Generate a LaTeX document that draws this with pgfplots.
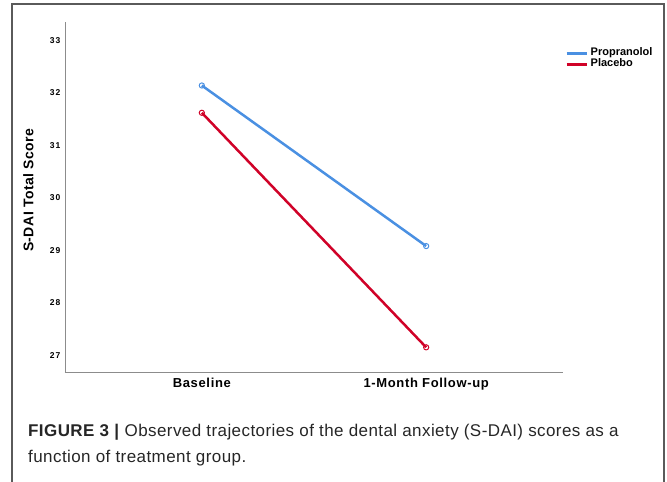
\documentclass[border=0pt]{standalone}
\usepackage{pgfplots}
\pgfplotsset{compat=1.18}
\usepackage{fontspec}
\setmainfont{Liberation Sans}
\definecolor{cblue}{RGB}{74,144,226}
\definecolor{cred}{RGB}{208,2,40}
\definecolor{frame}{RGB}{90,90,90}
\begin{document}
\begin{tikzpicture}[x=1pt,y=1pt]
\useasboundingbox (0,0) rectangle (667,482);
\draw[color=frame, line width=1.3pt] (12,0) -- (12,478) -- (664,478) -- (664,0);
\begin{axis}[
  at={(65pt,110pt)}, anchor=south west, scale only axis,
  width=498pt, height=350pt,
  xmin=-0.61, xmax=1.61, ymin=26.68, ymax=33.35,
  axis lines=left, axis line style={-, black!45, line width=0.9pt},
  xtick={0,1}, xticklabels={Baseline,1-Month Follow-up},
  ytick={27,28,29,30,31,32,33},
  major tick length=0pt,
  /pgf/number format/assume math mode=true,
  yticklabel style={font=\fontsize{8.5}{10}\selectfont\bfseries\addfontfeature{LetterSpace=12}, xshift=-1pt},
  xticklabel style={font=\fontsize{13}{15}\selectfont\bfseries\addfontfeature{LetterSpace=5}, yshift=-3pt},
  ylabel={S-DAI Total Score},
  every axis y label/.style={at={(axis description cs:-0.0733,0.519)}, rotate=90, anchor=center, font=\fontsize{14}{15}\selectfont\bfseries\addfontfeature{LetterSpace=3}},
  legend style={at={(axis description cs:1.004,0.895)}, anchor=west, draw=none, fill=none,
    inner sep=0pt, row sep=0pt, column sep=2.5pt,
    font=\fontsize{11}{11}\selectfont\bfseries,
    nodes={inner sep=0pt, text height=8pt, text depth=3pt}},
  legend image code/.code={\draw[#1,mark=none,line width=3pt] (0pt,0pt) -- (20pt,0pt);},
  legend cell align=left,
]
\addplot[cblue, line width=2.5pt, mark=o, mark size=2.6pt, mark options={solid, line width=1pt}] coordinates {(0,32.14) (1,29.08)};
\addlegendentry{Propranolol}
\addplot[cred, line width=2.5pt, mark=o, mark size=2.6pt, mark options={solid, line width=1pt}] coordinates {(0,31.62) (1,27.15)};
\addlegendentry{Placebo}
\end{axis}
\node[anchor=base west, inner sep=0pt, text=black!85, font=\fontsize{17}{26}\selectfont\addfontfeature{LetterSpace=2.5}] at (28,45) {\textbf{FIGURE 3 |} Observed trajectories of the dental anxiety (S-DAI) scores as a};
\node[anchor=base west, inner sep=0pt, text=black!85, font=\fontsize{17}{26}\selectfont\addfontfeature{LetterSpace=2.5}] at (28,19) {function of treatment group.};
\end{tikzpicture}
\end{document}
